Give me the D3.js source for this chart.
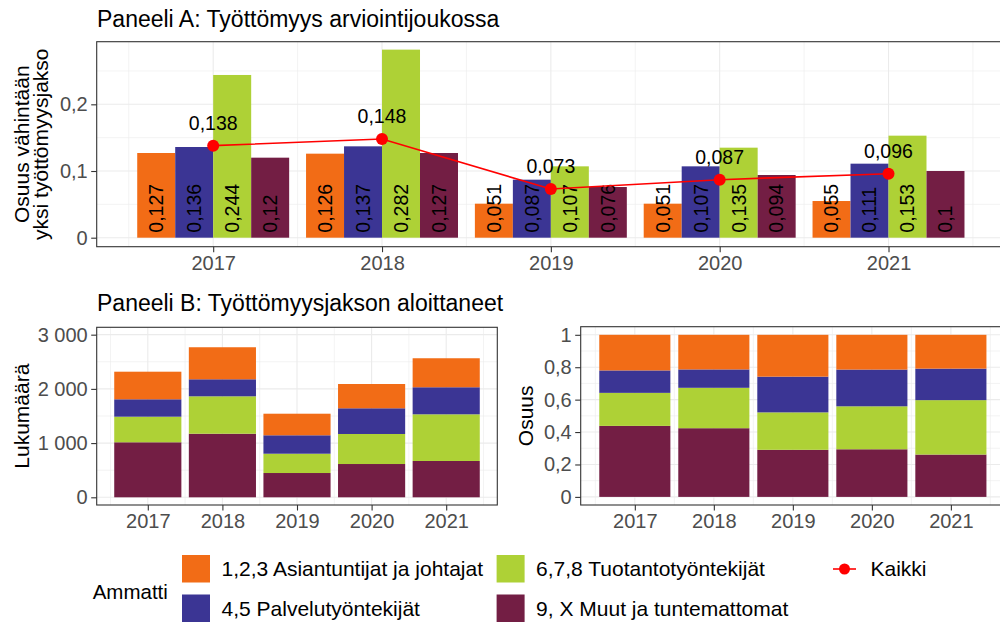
<!DOCTYPE html>
<html>
<head>
<meta charset="utf-8">
<script src="https://cdn.jsdelivr.net/npm/d3@7"></script>
<style>
  body { margin: 0; background: #fff; }
  svg { font-family: "Liberation Sans", Arial, sans-serif; }
</style>
</head>
<body>
<div id="chart"></div>
<script>
// data
const years = ["2017", "2018", "2019", "2020", "2021"];
const groups = [
  "1,2,3 Asiantuntijat ja johtajat",
  "4,5 Palvelutyöntekijät",
  "6,7,8 Tuotantotyöntekijät",
  "9, X Muut ja tuntemattomat"
];
const colors = ["#F26C16", "#3B3594", "#AED136", "#731E44"];

// paneeli A: osuus vähintään yksi työttömyysjakso
const shareAsiantuntijat = [0.127, 0.126, 0.051, 0.051, 0.055];
const sharePalvelu = [0.136, 0.137, 0.087, 0.107, 0.111];
const shareTuotanto = [0.244, 0.282, 0.107, 0.135, 0.153];
const shareMuut = [0.12, 0.127, 0.076, 0.094, 0.1];
const shareKaikki = [0.138, 0.148, 0.073, 0.087, 0.096];

// paneeli B: työttömyysjakson aloittaneet (lukumäärä)
const countAsiantuntijat = [509, 591, 398, 448, 535];
const countPalvelu = [321, 314, 340, 474, 499];
const countTuotanto = [472, 690, 356, 554, 861];
const countMuut = [1015, 1173, 448, 614, 670];

const ticksA = [0, 0.1, 0.2];
const ticksCount = [0, 1000, 2000, 3000];
const ticksShare = [0, 0.2, 0.4, 0.6, 0.8, 1];

const W = 1000, H = 623;
const fi = d3.formatLocale({ decimal: ",", thousands: "\u00a0", grouping: [3], currency: ["", "€"] });
const fmtNum = (v) => fi.format(",~r")(v);
const fmtDec = (v) => String(v).replace(".", ",");

const svg = d3.select("#chart").append("svg")
  .attr("width", W).attr("height", H)
  .style("background", "#fff");

const textCol = "#000";
const tickCol = "#4D4D4D";

// paneelin kehys, ruudukko ja akselit
function panel(x, y, box, yTicks, yMinor, fmt) {
  const g = svg.append("g");
  g.append("rect")
    .attr("x", box.left).attr("y", box.top)
    .attr("width", box.right - box.left).attr("height", box.bottom - box.top)
    .attr("fill", "#fff");
  const step = x.step();
  const minorX = years.map((d) => x(d) - step / 2).concat([x(years[years.length - 1]) + step / 2]);
  g.selectAll(".gxm").data(minorX).enter().append("line")
    .attr("x1", (d) => d).attr("x2", (d) => d)
    .attr("y1", box.top).attr("y2", box.bottom)
    .attr("stroke", "#EBEBEB").attr("stroke-width", 0.6);
  g.selectAll(".gym").data(yMinor).enter().append("line")
    .attr("x1", box.left).attr("x2", box.right)
    .attr("y1", (d) => y(d)).attr("y2", (d) => y(d))
    .attr("stroke", "#EBEBEB").attr("stroke-width", 0.6);
  g.selectAll(".gx").data(years).enter().append("line")
    .attr("x1", (d) => x(d)).attr("x2", (d) => x(d))
    .attr("y1", box.top).attr("y2", box.bottom)
    .attr("stroke", "#EBEBEB").attr("stroke-width", 1.1);
  g.selectAll(".gy").data(yTicks).enter().append("line")
    .attr("x1", box.left).attr("x2", box.right)
    .attr("y1", (d) => y(d)).attr("y2", (d) => y(d))
    .attr("stroke", "#EBEBEB").attr("stroke-width", 1.1);

  const ya = svg.append("g")
    .attr("transform", "translate(" + box.left + ",0)")
    .call(d3.axisLeft(y).tickValues(yTicks).tickFormat(fmt).tickSize(5.5).tickPadding(3.5));
  const xa = svg.append("g")
    .attr("transform", "translate(0," + box.bottom + ")")
    .call(d3.axisBottom(x).tickSize(5.5).tickPadding(3.6));
  [ya, xa].forEach((a) => {
    a.select(".domain").remove();
    a.selectAll("line").attr("stroke", "#333").attr("stroke-width", 1.1);
    a.selectAll("text").attr("fill", tickCol).style("font-size", "20px").style("font-family", null);
    a.attr("font-family", null).attr("font-size", null);
  });
  return g;
}

function border(box) {
  svg.append("rect")
    .attr("x", box.left).attr("y", box.top)
    .attr("width", box.right - box.left).attr("height", box.bottom - box.top)
    .attr("fill", "none").attr("stroke", "#333").attr("stroke-width", 1.1);
}

// ---------- Paneeli A ----------
const boxA = { left: 96.7, right: 1005, top: 41.7, bottom: 246.7 };
const xA = d3.scalePoint().domain(years).range([boxA.left, boxA.right]).padding(0.69);
const yA = d3.scaleLinear().domain([-0.0135, 0.2939]).range([boxA.bottom, boxA.top]);

svg.append("text")
  .attr("x", 97).attr("y", 26.5)
  .style("font-size", "23px").attr("fill", textCol)
  .text("Paneeli A: Työttömyys arviointijoukossa");

panel(xA, yA, boxA, ticksA, [0.05, 0.15, 0.25], fmtDec);

const seriesA = [shareAsiantuntijat, sharePalvelu, shareTuotanto, shareMuut];
const bwA = (xA.step() * 0.9) / 4;
const barsA = [];
seriesA.forEach((arr, k) => {
  arr.forEach((v, i) => barsA.push({ year: years[i], k: k, v: v }));
});
const bxA = (d) => xA(d.year) - 2 * bwA + d.k * bwA;

svg.append("g").selectAll("rect").data(barsA).enter().append("rect")
  .attr("x", bxA).attr("width", bwA)
  .attr("y", (d) => yA(d.v)).attr("height", (d) => yA(0) - yA(d.v))
  .attr("fill", (d) => colors[d.k]);

svg.append("g").selectAll("text").data(barsA).enter().append("text")
  .attr("transform", (d) => "translate(" + (bxA(d) + bwA / 2) + "," + (yA(0) - 5) + ") rotate(-90)")
  .attr("dy", "0.35em")
  .attr("text-anchor", "start")
  .style("font-size", "19.5px").attr("fill", textCol)
  .text((d) => fmtDec(d.v));

const line = d3.line().x((d, i) => xA(years[i])).y((d) => yA(d));
svg.append("path").datum(shareKaikki)
  .attr("d", line).attr("fill", "none")
  .attr("stroke", "#FF0000").attr("stroke-width", 1.6);
svg.append("g").selectAll("circle").data(shareKaikki).enter().append("circle")
  .attr("cx", (d, i) => xA(years[i])).attr("cy", (d) => yA(d))
  .attr("r", 6).attr("fill", "#FF0000");
svg.append("g").selectAll("text").data(shareKaikki).enter().append("text")
  .attr("x", (d, i) => xA(years[i])).attr("y", (d) => yA(d) - 16)
  .attr("text-anchor", "middle")
  .style("font-size", "19.5px").attr("fill", textCol)
  .text((d) => fmtDec(d));

border(boxA);

const yTitleA = svg.append("text")
  .attr("transform", "translate(0," + (boxA.top + boxA.bottom) / 2 + ") rotate(-90)")
  .attr("text-anchor", "middle")
  .style("font-size", "21px").attr("fill", textCol);
yTitleA.append("tspan").attr("x", 0).attr("y", 28.5).text("Osuus vähintään");
yTitleA.append("tspan").attr("x", 0).attr("y", 48).text("yksi työttömyysjakso");

// ---------- Paneeli B ----------
svg.append("text")
  .attr("x", 97).attr("y", 311)
  .style("font-size", "23px").attr("fill", textCol)
  .text("Paneeli B: Työttömyysjakson aloittaneet");

const countTable = years.map((yr, i) => ({
  year: yr,
  g0: countAsiantuntijat[i],
  g1: countPalvelu[i],
  g2: countTuotanto[i],
  g3: countMuut[i]
}));
// pinon järjestys alhaalta ylös: muut, tuotanto, palvelu, asiantuntijat
const stackKeys = ["g3", "g2", "g1", "g0"];
const keyColor = { g0: colors[0], g1: colors[1], g2: colors[2], g3: colors[3] };

function stackedPanel(box, stacked, y, yTicks, yMinor, fmt, title, titleX) {
  const x = d3.scalePoint().domain(years).range([box.left, box.right]).padding(0.685);
  panel(x, y, box, yTicks, yMinor, fmt);
  const bw = x.step() * 0.9;
  svg.append("g").selectAll("g").data(stacked).enter().append("g")
    .attr("fill", (s) => keyColor[s.key])
    .selectAll("rect").data((s) => s).enter().append("rect")
    .attr("x", (d) => x(d.data.year) - bw / 2).attr("width", bw)
    .attr("y", (d) => y(d[1])).attr("height", (d) => y(d[0]) - y(d[1]));
  border(box);
  svg.append("text")
    .attr("transform", "translate(" + titleX + "," + (box.top + box.bottom) / 2 + ") rotate(-90)")
    .attr("text-anchor", "middle")
    .style("font-size", "21px").attr("fill", textCol)
    .text(title);
}

const boxB1 = { left: 96.7, right: 497.3, top: 327.3, bottom: 505 };
const yB1 = d3.scaleLinear().domain([-142, 3136]).range([boxB1.bottom, boxB1.top]);
stackedPanel(boxB1, d3.stack().keys(stackKeys)(countTable), yB1,
  ticksCount, [500, 1500, 2500], fmtNum, "Lukumäärä", 28.5);

const boxB2 = { left: 580.7, right: 1005, top: 326.7, bottom: 505 };
const yB2 = d3.scaleLinear().domain([-0.05, 1.05]).range([boxB2.bottom, boxB2.top]);
stackedPanel(boxB2, d3.stack().keys(stackKeys).offset(d3.stackOffsetExpand)(countTable), yB2,
  ticksShare, [0.1, 0.3, 0.5, 0.7, 0.9], fmtDec, "Osuus", 533.3);

// ---------- Selite ----------
const legend = svg.append("g");
legend.append("text")
  .attr("x", 92.7).attr("y", 591.7).attr("dy", "0.35em")
  .style("font-size", "20.5px").attr("fill", textCol)
  .text("Ammatti");

const legendItems = [
  { i: 0, x: 182, y: 555 },
  { i: 1, x: 182, y: 594.5 },
  { i: 2, x: 496.6, y: 555 },
  { i: 3, x: 496.6, y: 594.5 }
];
legend.selectAll("rect").data(legendItems).enter().append("rect")
  .attr("x", (d) => d.x).attr("y", (d) => d.y)
  .attr("width", 28).attr("height", 27.5)
  .attr("fill", (d) => colors[d.i]);
legend.selectAll(".lab").data(legendItems).enter().append("text")
  .attr("x", (d) => d.x + 39.5).attr("y", (d) => d.y + 14).attr("dy", "0.35em")
  .style("font-size", "21px").attr("fill", textCol)
  .text((d) => groups[d.i]);

legend.append("line")
  .attr("x1", 833).attr("x2", 856).attr("y1", 569).attr("y2", 569)
  .attr("stroke", "#FF0000").attr("stroke-width", 1.6);
legend.append("circle")
  .attr("cx", 844.5).attr("cy", 569).attr("r", 5.5).attr("fill", "#FF0000");
legend.append("text")
  .attr("x", 870.5).attr("y", 569).attr("dy", "0.35em")
  .style("font-size", "21px").attr("fill", textCol)
  .text("Kaikki");
</script>
</body>
</html>
